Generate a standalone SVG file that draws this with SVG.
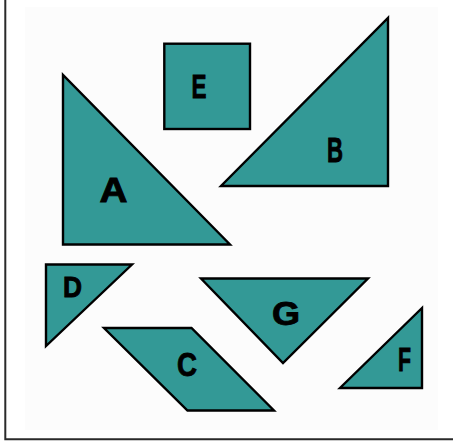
<svg xmlns="http://www.w3.org/2000/svg" width="453" height="445" viewBox="0 0 453 445">
<style>
.piece{fill:#339996;stroke:#000;stroke-width:2.4;stroke-linejoin:miter}
.lbl{font-family:"Liberation Sans",Arial,sans-serif;font-weight:bold;fill:#000;stroke:#000;stroke-width:0.9;text-anchor:middle}
</style>
<rect x="0" y="0" width="453" height="445" fill="#fff"/>
<rect x="25" y="7" width="413" height="423" fill="#fcfcfc"/>
<path d="M5.3,0 V439.2 H453" fill="none" stroke="#2a2a2a" stroke-width="2"/>
<g id="E">
<rect class="piece" x="164.3" y="43.7" width="85.7" height="85.3"/>
<text class="lbl" x="199" y="97.8" font-size="34" textLength="15" lengthAdjust="spacingAndGlyphs">E</text>
</g>
<g id="B">
<polygon class="piece" points="388,18 388,186 221,186"/>
<text class="lbl" x="335" y="161.8" font-size="35" textLength="16" lengthAdjust="spacingAndGlyphs">B</text>
</g>
<g id="A">
<polygon class="piece" points="63,75 63,244.5 230,244.5"/>
<text class="lbl" x="113.5" y="202.2" font-size="35" textLength="28" lengthAdjust="spacingAndGlyphs">A</text>
</g>
<g id="D">
<polygon class="piece" points="46,264.5 132,264.5 46,346"/>
<text class="lbl" x="72.5" y="297.2" font-size="29.5" textLength="19" lengthAdjust="spacingAndGlyphs">D</text>
</g>
<g id="G">
<polygon class="piece" points="201,278.5 368,278.5 283,363"/>
<text class="lbl" x="286" y="325.2" font-size="33" textLength="28" lengthAdjust="spacingAndGlyphs">G</text>
</g>
<g id="C">
<polygon class="piece" points="104,328 191.5,328 274,410.5 187.5,410.5"/>
<text class="lbl" x="187" y="376.2" font-size="34" textLength="20" lengthAdjust="spacingAndGlyphs">C</text>
</g>
<g id="F">
<polygon class="piece" points="422,308 422,388 340,388"/>
<text class="lbl" x="404.5" y="371.2" font-size="34" textLength="13" lengthAdjust="spacingAndGlyphs">F</text>
</g>
</svg>
